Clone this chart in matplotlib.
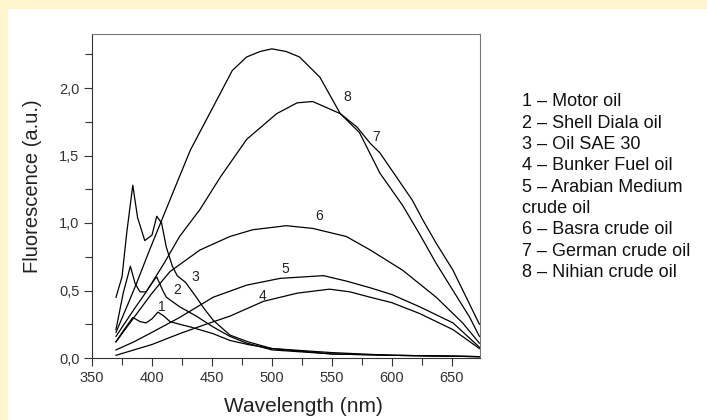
import matplotlib
matplotlib.use("Agg")
import matplotlib.pyplot as plt
from matplotlib.patches import Rectangle
from matplotlib.ticker import MultipleLocator, FuncFormatter

# wavelength (nm) / fluorescence (a.u.)
wl1 = [370, 376, 384, 390, 395, 400, 405, 410, 415, 423, 432, 451, 465, 480, 500, 550, 600, 640, 673]
fl1 = [0.12, 0.20, 0.30, 0.27, 0.26, 0.29, 0.34, 0.31, 0.27, 0.25, 0.23, 0.18, 0.13, 0.10, 0.07, 0.04, 0.02, 0.015, 0.01]

wl2 = [370, 376, 382, 386, 390, 395, 402, 404, 409, 412, 423, 437, 451, 465, 479, 500, 550, 600, 640, 673]
fl2 = [0.21, 0.48, 0.68, 0.55, 0.49, 0.49, 0.58, 0.60, 0.50, 0.45, 0.38, 0.31, 0.23, 0.16, 0.11, 0.06, 0.03, 0.02, 0.015, 0.01]

wl3 = [370, 375, 379, 384, 388, 394, 400, 404, 408, 412, 417, 421, 428, 437, 444, 451, 465, 480, 500, 550, 600, 640, 673]
fl3 = [0.45, 0.60, 0.93, 1.28, 1.04, 0.87, 0.91, 1.05, 1.00, 0.82, 0.68, 0.61, 0.56, 0.45, 0.36, 0.28, 0.17, 0.12, 0.07, 0.03, 0.02, 0.015, 0.01]

wl4 = [370, 385, 400, 423, 445, 465, 493, 521, 548, 565, 582, 600, 623, 651, 673]
fl4 = [0.02, 0.06, 0.10, 0.18, 0.25, 0.31, 0.42, 0.48, 0.51, 0.49, 0.45, 0.41, 0.33, 0.21, 0.07]

wl5 = [370, 385, 400, 423, 451, 479, 507, 543, 562, 582, 600, 623, 651, 673]
fl5 = [0.06, 0.12, 0.19, 0.30, 0.45, 0.54, 0.59, 0.61, 0.57, 0.52, 0.47, 0.38, 0.26, 0.08]

wl6 = [370, 380, 390, 400, 415, 440, 465, 484, 512, 534, 562, 582, 609, 637, 659, 673]
fl6 = [0.12, 0.24, 0.36, 0.48, 0.64, 0.80, 0.90, 0.95, 0.98, 0.96, 0.90, 0.80, 0.65, 0.45, 0.26, 0.11]

wl7 = [370, 385, 396, 410, 423, 440, 457, 479, 504, 521, 534, 557, 571, 582, 590, 617, 626, 637, 651, 662, 673]
fl7 = [0.16, 0.36, 0.50, 0.70, 0.90, 1.10, 1.34, 1.62, 1.81, 1.89, 1.90, 1.81, 1.71, 1.59, 1.52, 1.17, 1.02, 0.85, 0.65, 0.45, 0.25]

wl8 = [370, 380, 387, 398, 409, 420, 432, 451, 467, 479, 490, 500, 512, 523, 540, 557, 573, 590, 609, 623, 637, 651, 665, 673]
fl8 = [0.19, 0.40, 0.55, 0.80, 1.04, 1.28, 1.54, 1.86, 2.13, 2.23, 2.27, 2.29, 2.27, 2.23, 2.08, 1.81, 1.67, 1.37, 1.13, 0.92, 0.70, 0.50, 0.30, 0.16]

curves = [(wl1, fl1), (wl2, fl2), (wl3, fl3), (wl4, fl4),
          (wl5, fl5), (wl6, fl6), (wl7, fl7), (wl8, fl8)]

# curve number labels inside the plot
label_x = [408, 421, 436, 492, 511, 539, 587, 563]
label_y = [0.38, 0.50, 0.60, 0.46, 0.66, 1.05, 1.64, 1.93]

legend_lines = ["1 \u2013 Motor oil", "2 \u2013 Shell Diala oil", "3 \u2013 Oil SAE 30",
                "4 \u2013 Bunker Fuel oil", "5 \u2013 Arabian Medium", "crude oil",
                "6 \u2013 Basra crude oil", "7 \u2013 German crude oil", "8 \u2013 Nihian crude oil"]

plt.rcParams['font.family'] = ['Liberation Sans', 'DejaVu Sans']

fig = plt.figure(figsize=(7.07, 4.2), dpi=100)
fig.patch.set_facecolor("white")
# yellow strip on the top and left edge
fig.patches.append(Rectangle((0, 1 - 9 / 420), 1, 9 / 420, transform=fig.transFigure,
                             facecolor="#fff5cc", edgecolor="none", zorder=0))
fig.patches.append(Rectangle((0, 0), 8 / 707, 1, transform=fig.transFigure,
                             facecolor="#fff5cc", edgecolor="none", zorder=0))

ax = fig.add_axes([92 / 707, 1 - 358 / 420, 388 / 707, 324 / 420])

for wl, fl in curves:
    ax.plot(wl, fl, color="black", lw=0.9)

for i in range(8):
    ax.text(label_x[i], label_y[i], str(i + 1), fontsize=10, ha="center", va="center",
            color="#222222")

ax.set_xlim(350, 673.5)
ax.set_ylim(0, 2.4)
ax.xaxis.set_major_locator(MultipleLocator(50))
ax.xaxis.set_minor_locator(MultipleLocator(25))
ax.yaxis.set_major_locator(MultipleLocator(0.5))
ax.yaxis.set_minor_locator(MultipleLocator(0.25))
ax.yaxis.set_major_formatter(FuncFormatter(lambda v, p: ("%.1f" % v).replace(".", ",")))
ax.tick_params(which="major", direction="out", length=6, width=0.8, labelsize=10.5,
               colors="#333333", pad=3)
ax.tick_params(which="minor", direction="out", length=5, width=0.8, colors="#333333")
for side in ["top", "right"]:
    ax.spines[side].set_color("#777777")
for side in ["left", "bottom"]:
    ax.spines[side].set_color("#333333")

fig.text(303 / 707, 1 - 407 / 420, "Wavelength (nm)", fontsize=15, color="#222222",
         ha="center", va="center")
fig.text(33 / 707, 1 - 186 / 420, "Fluorescence (a.u.)", fontsize=14.5, color="#222222",
         ha="center", va="center", rotation=90)

for i, line in enumerate(legend_lines):
    fig.text(522 / 707, 1 - (102 + i * 21.3) / 420, line, fontsize=13,
             va="center", ha="left", color="#111111")

fig.savefig("out.png", dpi=100)
